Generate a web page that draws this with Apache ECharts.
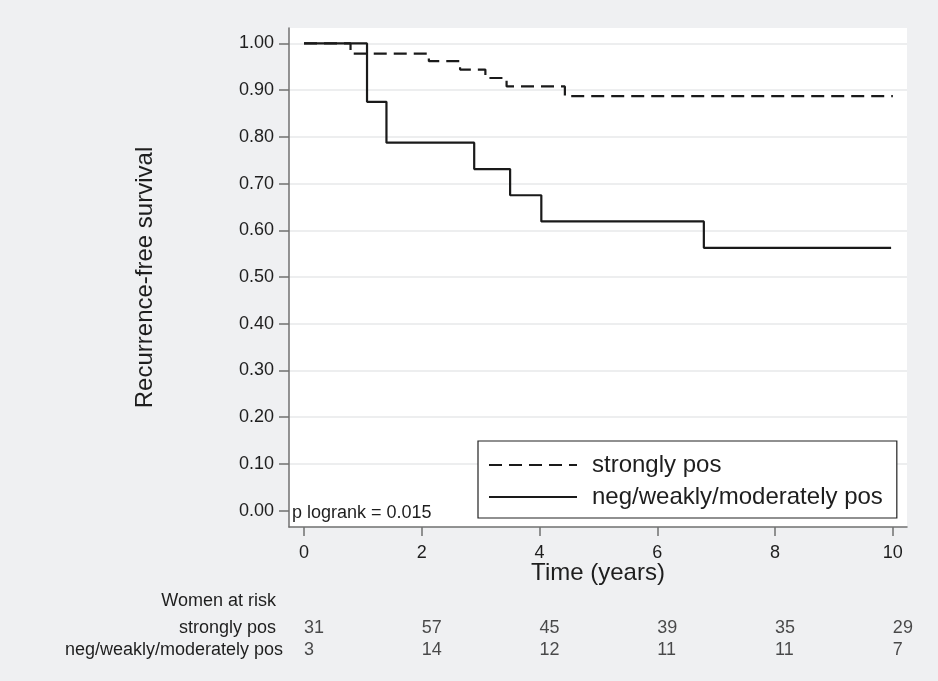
<!DOCTYPE html>
<html>
<head>
<meta charset="utf-8">
<script src="https://cdn.jsdelivr.net/npm/echarts@6/dist/echarts.min.js"></script>
<style>
  html, body { margin: 0; padding: 0; background: #eff0f2; }
  #chart { width: 938px; height: 681px; }
</style>
</head>
<body>
<div id="chart"></div>
<script>
// Kaplan-Meier steps (time in years, survival)
const strongTimes = [0, 0.79, 2.12, 2.65, 3.08, 3.44, 4.43, 10];
const strongSurv = [1.0, 0.978, 0.962, 0.944, 0.926, 0.908, 0.887, 0.887];
const weakTimes = [0, 1.07, 1.40, 2.89, 3.50, 4.03, 6.79, 9.97];
const weakSurv = [1.0, 0.875, 0.7875, 0.731, 0.675, 0.619, 0.5625, 0.5625];

const xTicks = [0, 2, 4, 6, 8, 10];
const yTicks = [0, 0.1, 0.2, 0.3, 0.4, 0.5, 0.6, 0.7, 0.8, 0.9, 1.0];

// numbers at risk table
const riskGroups = ['neg/weakly/moderately pos', 'strongly pos'];
const riskTimes = [0, 2, 4, 6, 8, 10];
const riskStrong = [31, 57, 45, 39, 35, 29];
const riskWeak = [3, 14, 12, 11, 11, 7];

const FONT = "'Liberation Sans', Arial, sans-serif";
const TXT = '#1e1e1e';
const AXIS = '#707070';
const GRIDLINE = '#e7e8ea';

const chart = echarts.init(document.getElementById('chart'));

const zip = (xs, ys) => xs.map((x, i) => [x, ys[i]]);

// no gridline along 0.00 (the p-value text sits there)
const gridColors = yTicks.map(v => v === 0 ? 'rgba(0,0,0,0)' : GRIDLINE);

const riskLabel = {
    show: true, position: 'right', distance: 0,
    fontSize: 18, color: TXT, fontFamily: FONT,
    formatter: p => String(p.value[2])
};

const option = {
    backgroundColor: '#eff0f2',
    animation: false,
    textStyle: { fontFamily: FONT, color: TXT },
    grid: [
        { left: 289, right: 31, top: 28, bottom: 154, show: true, backgroundColor: '#ffffff', borderWidth: 0 },
        { left: 289, right: 31, top: 617, bottom: 20 }
    ],
    xAxis: [
        {
            gridIndex: 0,
            type: 'value',
            min: -0.255,
            max: 10.24,
            name: 'Time (years)',
            nameLocation: 'middle',
            nameGap: 34,
            nameMoveOverlap: false,
            nameTextStyle: { fontSize: 24, color: TXT, fontFamily: FONT },
            axisLine: { show: true, onZero: false, lineStyle: { color: AXIS, width: 1.5 } },
            axisTick: { show: true, length: 9, customValues: xTicks, lineStyle: { color: AXIS, width: 1.5 } },
            axisLabel: { customValues: xTicks, fontSize: 18, color: TXT, margin: 17, fontFamily: FONT },
            splitLine: { show: false }
        },
        {
            gridIndex: 1,
            type: 'value',
            min: -0.255,
            max: 10.24,
            show: false
        }
    ],
    yAxis: [
        {
            gridIndex: 0,
            type: 'value',
            min: -0.035,
            max: 1.033,
            name: 'Recurrence-free survival',
            nameLocation: 'middle',
            nameGap: 132,
            nameTextStyle: { fontSize: 24, color: TXT, fontFamily: FONT },
            axisLine: { show: true, onZero: false, lineStyle: { color: AXIS, width: 1.5 } },
            axisTick: { show: true, length: 10, customValues: yTicks, lineStyle: { color: AXIS, width: 1.5 } },
            axisLabel: {
                customValues: yTicks,
                fontSize: 18,
                color: TXT,
                margin: 15,
                fontFamily: FONT,
                formatter: v => v.toFixed(2)
            },
            splitLine: { show: true, lineStyle: { color: gridColors, width: 1.5 } }
        },
        {
            gridIndex: 1,
            type: 'category',
            data: riskGroups,
            axisLine: { show: false },
            axisTick: { show: false },
            splitLine: { show: false },
            axisLabel: {
                interval: 0,
                fontSize: 18,
                color: TXT,
                margin: 6,
                fontFamily: FONT,
                formatter: v => v === 'strongly pos' ? '{s|' + v + '}' : v,
                rich: { s: { fontSize: 18, fontFamily: FONT, color: TXT, padding: [0, 7, 0, 0] } }
            }
        }
    ],
    legend: {
        orient: 'vertical',
        left: 478,
        top: 441,
        padding: [12, 14, 9, 10],
        itemGap: 8,
        itemWidth: 88,
        itemHeight: 14,
        backgroundColor: '#ffffff',
        borderColor: '#222222',
        borderWidth: 1.2,
        borderRadius: 0,
        textStyle: { fontSize: 24, color: TXT, fontFamily: FONT, padding: [0, 0, 0, 10] },
        data: ['strongly pos', 'neg/weakly/moderately pos']
    },
    graphic: [
        {
            type: 'text',
            left: 292,
            top: 504,
            style: { text: 'p logrank = 0.015', font: '18px ' + FONT, fill: TXT }
        },
        {
            type: 'text',
            right: 938 - 276,
            top: 592,
            style: { text: 'Women at risk', font: '18px ' + FONT, fill: TXT }
        }
    ],
    series: [
        {
            name: 'strongly pos',
            type: 'line',
            xAxisIndex: 0,
            yAxisIndex: 0,
            step: 'end',
            symbol: 'none',
            data: zip(strongTimes, strongSurv),
            lineStyle: { color: '#1a1a1a', width: 2.2, type: [13, 7] },
            itemStyle: { color: '#1a1a1a', opacity: 0 }
        },
        {
            name: 'neg/weakly/moderately pos',
            type: 'line',
            xAxisIndex: 0,
            yAxisIndex: 0,
            step: 'end',
            symbol: 'none',
            data: zip(weakTimes, weakSurv),
            lineStyle: { color: '#1a1a1a', width: 2.2, type: 'solid' },
            itemStyle: { color: '#1a1a1a', opacity: 0 }
        },
        {
            type: 'scatter',
            xAxisIndex: 1,
            yAxisIndex: 1,
            symbolSize: 0,
            silent: true,
            data: riskTimes.map((t, i) => [t, 'strongly pos', riskStrong[i]]),
            label: riskLabel
        },
        {
            type: 'scatter',
            xAxisIndex: 1,
            yAxisIndex: 1,
            symbolSize: 0,
            silent: true,
            data: riskTimes.map((t, i) => [t, 'neg/weakly/moderately pos', riskWeak[i]]),
            label: riskLabel
        }
    ]
};

chart.setOption(option);
window.addEventListener('resize', () => chart.resize());
</script>
</body>
</html>
